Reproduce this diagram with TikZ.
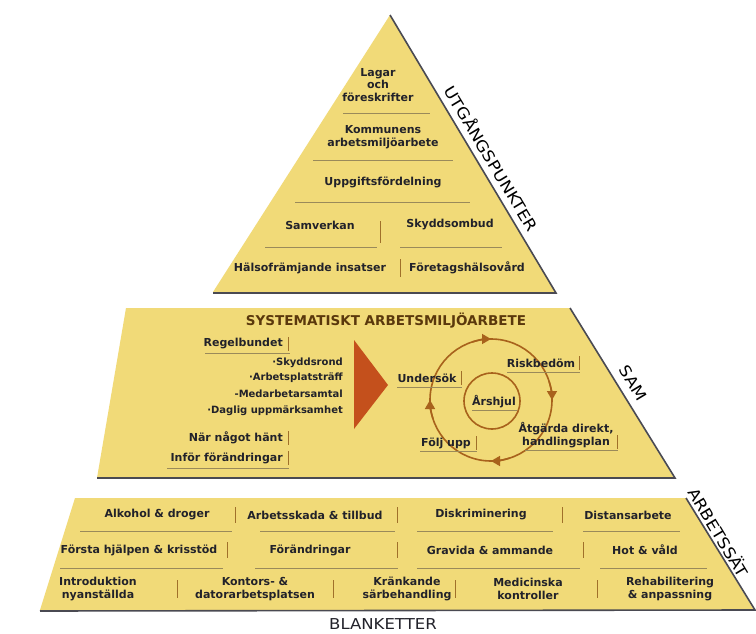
\documentclass[tikz,border=0pt]{standalone}
\usepackage{fontspec}
\setmainfont{DejaVu Sans}
\newfontfamily\widefont[FakeStretch=1.12]{DejaVu Sans}
\newfontfamily\blankfont[FakeStretch=1.1]{DejaVu Sans}
\usetikzlibrary{arrows.meta,calc}
\definecolor{pyr}{HTML}{F1DA78}
\definecolor{shad}{HTML}{4A4A52}
\definecolor{txt}{HTML}{22222A}
\definecolor{sepl}{HTML}{9A8A5A}
\definecolor{barc}{HTML}{A0702A}
\definecolor{tri}{HTML}{C4501C}
\definecolor{ring}{HTML}{A8621C}
\definecolor{ttl}{HTML}{5A380C}
\begin{document}
\begin{tikzpicture}[x=1pt,y=-1pt,
  lbl/.style={font=\fontsize{11}{13}\selectfont\bfseries, text=txt, inner sep=0pt, align=center},
  sml/.style={font=\fontsize{10}{12}\selectfont\bfseries, text=txt, inner sep=0pt},
  ttlst/.style={font=\fontsize{13.5}{15}\selectfont\bfseries, text=ttl, inner sep=0pt},
  side/.style={font=\widefont\fontsize{15.5}{17}\selectfont, text=black, inner sep=0pt, rotate=-59},
  sepline/.style={draw=sepl, line width=0.6pt},
  vbar/.style={draw=barc, line width=1pt},
  uline/.style={draw=sepl, line width=0.6pt},
  shadowline/.style={draw=shad, line width=1.6pt},
  ringline/.style={draw=ring, line width=1.6pt},
  ringarrow/.style={draw=ring, line width=1.6pt, -{Triangle[length=9pt,width=10pt]}}
]
\useasboundingbox (0,0) rectangle (756,634);
\fill[white] (0,0) rectangle (756,634);

% ---------- shapes ----------
\fill[pyr] (390,15) -- (555,292) -- (213,292) -- cycle;
\draw[shadowline] (390,15) -- (556,293) -- (213,293);
\fill[pyr] (126,308) -- (570,308) -- (674,478) -- (97,478) -- cycle;
\draw[shadowline] (570,308) -- (675,478) -- (97,478);
\fill[pyr] (75,498) -- (686,498) -- (754,610) -- (40,610) -- cycle;
\draw[shadowline] (686,498) -- (755,610) -- (40,611);

% ---------- top triangle ----------
\node[lbl, font=\fontsize{11}{12.5}\selectfont\bfseries] (lagar) at (378,85) {Lagar\\och\\föreskrifter};
\draw[sepline] (343,113) -- (430,113);
\node[lbl] (komm) at (383,137) {Kommunens\\arbetsmiljöarbete};
\draw[sepline] (313,160) -- (453,160);
\node[lbl] (uppg) at (383,182) {Uppgiftsfördelning};
\draw[sepline] (295,202) -- (470,202);
\node[lbl] (samv) at (320,225) {Samverkan};
\draw[vbar] (380,221) -- (380,243);
\node[lbl] (skydd) at (450,225) {Skyddsombud};
\draw[sepline] (265,247) -- (377,247);
\draw[sepline] (400,247) -- (502,247);
\node[lbl] (halso) at (310,268) {Hälsofrämjande insatser};
\draw[vbar] (400,259) -- (400,277);
\node[lbl] (foretag) at (467,268) {Företagshälsovård};
\node[side] (utg) at (492,158) {UTGÅNGSPUNKTER};

% ---------- middle ----------
\node[ttlst] (sys) at (386,321) {SYSTEMATISKT ARBETSMILJÖARBETE};
\node[lbl, anchor=east] (regel) at (283,344) {Regelbundet};
\draw[vbar] (288,337) -- (288,351);
\draw[uline] (205,353) -- (290,353);
\node[sml, anchor=east] (sk) at (343,363) {·Skyddsrond};
\node[sml, anchor=east] (apt) at (343,378) {·Arbetsplatsträff};
\node[sml, anchor=east] (med) at (343,394) {-Medarbetarsamtal};
\node[sml, anchor=east] (dag) at (343,411) {·Daglig uppmärksamhet};
\node[lbl, anchor=east] (nar) at (283,438) {När något hänt};
\draw[vbar] (288,431) -- (288,445);
\node[lbl, anchor=east] (infor) at (283,458) {Inför förändringar};
\draw[vbar] (288,451) -- (288,465);
\draw[uline] (167,468) -- (289,468);

\fill[tri] (354,340) -- (388,385) -- (354,429) -- cycle;

\coordinate (cc) at (491,400);
\draw[ringline] (cc) circle[radius=61];
\draw[ringline] (492,401) circle[radius=28];
\foreach \a in {-94,-4,86,176} {
  \draw[ringarrow] ($(cc)+(\a-14:61)$) arc[start angle=\a-14, end angle=\a+4, radius=61];
}

\node[lbl] (unders) at (427,378) {Undersök};
\draw[vbar] (461,371) -- (461,385);
\draw[uline] (397,387) -- (462,387);
\node[lbl] (risk) at (541,363) {Riskbedöm};
\draw[vbar] (579,356) -- (579,370);
\draw[uline] (507,372) -- (580,372);
\node[lbl] (ars) at (494,402) {Årshjul};
\draw[uline] (472,410) -- (517,410);
\node[lbl] (atg) at (566,435) {Åtgärda direkt,\\handlingsplan};
\draw[vbar] (617,435) -- (617,449);
\draw[uline] (525,450) -- (618,450);
\node[lbl] (folj) at (446,443) {Följ upp};
\draw[vbar] (476,436) -- (476,450);
\draw[uline] (420,451) -- (477,451);
\node[side] (sam) at (633,383) {SAM};

% ---------- bottom ----------
\node[lbl] (alk) at (157,515) {Alkohol \& droger};
\draw[vbar] (235,507) -- (235,523);
\node[lbl] (arbsk) at (315,515) {Arbetsskada \& tillbud};
\draw[vbar] (397,507) -- (397,523);
\node[lbl] (disk) at (481,515) {Diskriminering};
\draw[vbar] (562,507) -- (562,523);
\node[lbl] (dist) at (628,515) {Distansarbete};
\draw[sepline] (80,531) -- (232,531);
\draw[sepline] (260,531) -- (395,531);
\draw[sepline] (417,531) -- (553,531);
\draw[sepline] (583,531) -- (680,531);

\node[lbl] (forsta) at (139,550) {Första hjälpen \& krisstöd};
\draw[vbar] (227,542) -- (227,558);
\node[lbl] (forand) at (310,550) {Förändringar};
\draw[vbar] (397,542) -- (397,558);
\node[lbl] (grav) at (490,550) {Gravida \& ammande};
\draw[vbar] (583,542) -- (583,558);
\node[lbl] (hot) at (645,550) {Hot \& våld};
\draw[sepline] (60,568) -- (223,568);
\draw[sepline] (255,568) -- (398,568);
\draw[sepline] (417,568) -- (580,568);
\draw[sepline] (600,568) -- (707,568);

\node[lbl] (intro) at (98,589) {Introduktion\\nyanställda};
\draw[vbar] (177,580) -- (177,598);
\node[lbl] (kont) at (255,589) {Kontors- \&\\datorarbetsplatsen};
\draw[vbar] (333,580) -- (333,598);
\node[lbl] (krank) at (407,589) {Kränkande\\särbehandling};
\draw[vbar] (455,580) -- (455,598);
\node[lbl] (medi) at (528,589) {Medicinska\\kontroller};
\draw[vbar] (597,580) -- (597,598);
\node[lbl] (rehab) at (670,589) {Rehabilitering\\\& anpassning};
\node[side] (arb) at (719,532) {ARBETSSÄT};

\node[font=\blankfont\fontsize{15}{17}\selectfont, inner sep=0pt, text=txt] (blank) at (383,624) {BLANKETTER};
\end{tikzpicture}
\end{document}
